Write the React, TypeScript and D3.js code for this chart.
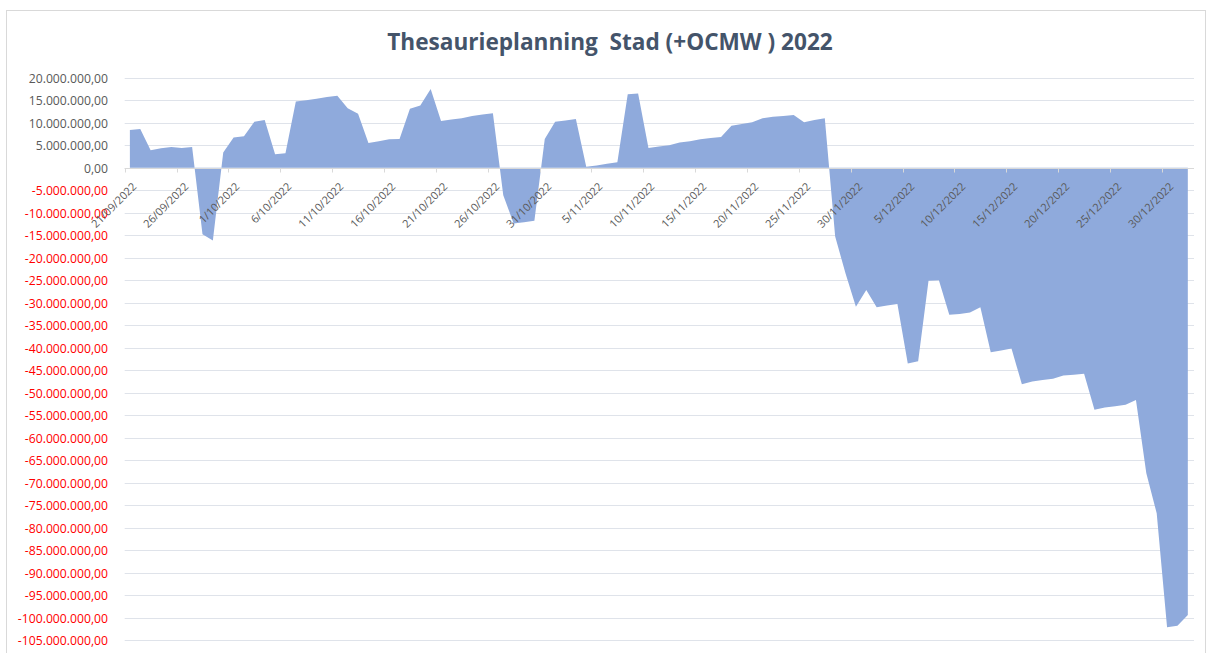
import { useEffect, useRef } from "react";
import * as d3 from "d3";

// Daily balance (in millions EUR), first day = 21/09/2022
const startDate = "21/09/2022";
const balanceMillions = [
	8.4, 8.6, 3.9, 4.3, 4.6, 4.4, 4.6, -14.8, -16.2, 3.4,
	6.7, 7.0, 10.2, 10.6, 3.0, 3.2, 14.7, 15.0, 15.3, 15.7,
	16.0, 13.2, 12.0, 5.5, 5.9, 6.3, 6.4, 13.1, 13.8, 17.5,
	10.4, 10.7, 11.0, 11.5, 11.8, 12.1, -6.1, -12.4, -12.1, -11.8,
	6.4, 10.2, 10.5, 10.8, 0.2, 0.5, 0.9, 1.2, 16.3, 16.5,
	4.4, 4.7, 5.0, 5.6, 5.9, 6.3, 6.6, 6.8, 9.3, 9.7,
	10.1, 11.0, 11.3, 11.5, 11.7, 10.1, 10.6, 11.0, -15.3, -23.5,
	-30.9, -27.2, -31.0, -30.6, -30.3, -43.5, -43.0, -25.1, -25.0, -32.7,
	-32.5, -32.2, -31.0, -41.0, -40.6, -40.2, -48.1, -47.5, -47.2, -46.9,
	-46.2, -46.0, -45.8, -53.8, -53.3, -53.0, -52.7, -51.6, -67.9, -76.8,
	-102.1, -101.8, -99.4,
];

const xTickLabels = [
	"21/09/2022", "26/09/2022", "1/10/2022", "6/10/2022", "11/10/2022",
	"16/10/2022", "21/10/2022", "26/10/2022", "31/10/2022", "5/11/2022",
	"10/11/2022", "15/11/2022", "20/11/2022", "25/11/2022", "30/11/2022",
	"5/12/2022", "10/12/2022", "15/12/2022", "20/12/2022", "25/12/2022",
	"30/12/2022",
];

const yTicks = [
	20, 15, 10, 5, 0, -5, -10, -15, -20, -25, -30, -35, -40, -45, -50, -55,
	-60, -65, -70, -75, -80, -85, -90, -95, -100, -105,
];

const title = "Thesaurieplanning  Stad (+OCMW ) 2022";

const App = () => {
	const svgRef = useRef(null);

	useEffect(() => {
		const width = 1212;
		const height = 653;
		const left = 124.7;
		const right = 1193;
		const top = 77.7;
		const bottom = 640.2;

		const svg = d3.select(svgRef.current).attr("width", width).attr("height", height);
		svg.selectAll("*").remove();

		const parse = d3.timeParse("%d/%m/%Y");
		const start = parse(startDate);
		const data = balanceMillions.map((v, i) => ({
			date: d3.timeHour.offset(d3.timeDay.offset(start, i), 12),
			value: v * 1e6,
		}));

		const x = d3
			.scaleTime()
			.domain([start, d3.timeDay.offset(start, balanceMillions.length)])
			.range([left, right]);
		const y = d3.scaleLinear().domain([-105e6, 20e6]).range([bottom, top]);

		const locale = d3.formatLocale({
			decimal: ",",
			thousands: ".",
			grouping: [3],
			currency: ["", ""],
			minus: "-",
		});
		const fmt = locale.format(",.2f");

		// chart border
		svg
			.append("rect")
			.attr("x", 6.5)
			.attr("y", 10.5)
			.attr("width", 1199)
			.attr("height", 700)
			.attr("fill", "#fff")
			.attr("stroke", "#d9d9d9");

		// title (keep the double space)
		svg
			.append("text")
			.attr("x", 610)
			.attr("y", 49.5)
			.attr("text-anchor", "middle")
			.attr("xml:space", "preserve")
			.style("white-space", "pre")
			.style("font-family", "'Open Sans', sans-serif")
			.style("font-size", "22.6px")
			.style("font-weight", "bold")
			.style("fill", "#44546a")
			.text(title);

		// gridlines + y labels
		const yAxis = svg.append("g");
		yTicks.forEach((t) => {
			const yy = Math.round(y(t * 1e6)) + 0.5;
			yAxis
				.append("line")
				.attr("x1", left)
				.attr("x2", 1194)
				.attr("y1", yy)
				.attr("y2", yy)
				.attr("stroke", "#dfe3ea")
				.attr("stroke-width", 1);
			yAxis
				.append("text")
				.attr("x", 108)
				.attr("y", yy)
				.attr("dy", "0.35em")
				.attr("text-anchor", "end")
				.style("font-family", "'Open Sans', sans-serif")
				.style("font-size", "12.2px")
				.style("fill", t < 0 ? "#ff0000" : "#595959")
				.text(fmt(t * 1e6));
		});

		// area
		const area = d3
			.area()
			.x((d) => x(d.date))
			.y0(y(0))
			.y1((d) => y(d.value));
		svg
			.append("path")
			.datum(data)
			.attr("d", area)
			.attr("fill", "#8faadc");

		// x axis line + ticks + labels
		const zeroY = Math.round(y(0)) + 0.5;
		const xAxis = svg.append("g");
		xAxis
			.append("line")
			.attr("x1", left)
			.attr("x2", 1194)
			.attr("y1", zeroY)
			.attr("y2", zeroY)
			.attr("stroke", "#d9d9d9");
		xTickLabels.forEach((label) => {
			const xx = Math.round(x(parse(label))) + 0.5;
			xAxis
				.append("line")
				.attr("x1", xx)
				.attr("x2", xx)
				.attr("y1", zeroY)
				.attr("y2", zeroY + 4)
				.attr("stroke", "#d9d9d9");
			xAxis
				.append("text")
				.attr("transform", `translate(${xx + 9},${zeroY + 16}) rotate(-45)`)
				.attr("text-anchor", "end")
				.attr("dy", "0.35em")
				.style("font-family", "'Open Sans', sans-serif")
				.style("font-size", "11px")
				.style("fill", "#595959")
				.text(label);
		});

		return () => {
			svg.selectAll("*").remove();
		};
	}, []);

	return (
		<div>
			<svg ref={svgRef} style={{ position: "absolute", left: 0, top: 0 }}></svg>
		</div>
	);
};

export default App;
